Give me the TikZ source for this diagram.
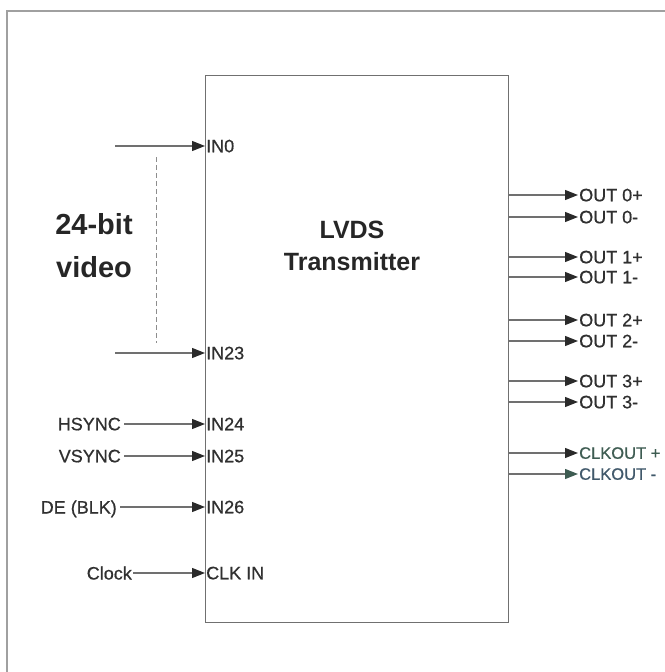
\documentclass[tikz,border=0pt]{standalone}
\usepackage{fontspec}
\setmainfont{Liberation Sans}
\newfontfamily\labelfont{Liberation Sans}[FakeBold=0.7]
\usetikzlibrary{arrows.meta}
\definecolor{wiregray}{HTML}{707070}
\definecolor{tipgray}{HTML}{2A2A2A}
\definecolor{framegray}{HTML}{A0A0A0}
\definecolor{textgray}{HTML}{303030}
\definecolor{clkgreen}{HTML}{3E5C52}
\definecolor{clkblue}{HTML}{40586A}
\begin{document}
\begin{tikzpicture}[x=1pt,y=-1pt,
  wire/.style={draw=wiregray,line width=1.3pt,-{Triangle[length=13pt,width=10pt,color=tipgray]}},
  pin/.style={font=\labelfont\fontsize{18}{20}\selectfont,text=textgray,inner sep=1pt,text depth=0pt,anchor=west},
  sig/.style={font=\labelfont\fontsize{18}{20}\selectfont,text=textgray,inner sep=3pt,text depth=0pt,anchor=east},
  title/.style={font=\bfseries\fontsize{25}{32}\selectfont,text=black!85,align=center},
]
\useasboundingbox (0,0) rectangle (664,672);
\draw[framegray,line width=1.2pt] (7,720) |- (720,11);
\node[draw=wiregray,line width=1.3pt,minimum width=303pt,minimum height=547pt,inner sep=0pt,anchor=north west] (tx) at (205,75) {};
\node[title] (txname) at (352,246) {LVDS\\Transmitter};
\node[title,font=\bfseries\fontsize{29}{43}\selectfont] (vidname) at (94,246) {24-bit\\video};
% input pins
\foreach \name/\yy/\txt in {in0/146/IN0,in23/353/IN23,in24/424/IN24,in25/456/IN25,in26/507/IN26,clkin/573/CLK IN}
  {\node[pin] (\name) at (205,\yy) {\txt};}
\coordinate (v0) at (115,146);
\coordinate (v23) at (115,353);
\coordinate (dtop) at (156,157);
\coordinate (dbot) at (156,343);
\draw[wire] (v0) -- (in0);
\draw[wire] (v23) -- (in23);
\draw[wiregray!80,line width=1pt,dash pattern=on 5pt off 3pt] (dtop) -- (dbot);
\node[sig] (hsync) at (124,424) {HSYNC};
\node[sig] (vsync) at (124,456) {VSYNC};
\node[sig] (de) at (120,507) {DE (BLK)};
\node[sig,inner sep=1pt] (clock) at (133,573) {Clock};
\draw[wire] (hsync) -- (in24);
\draw[wire] (vsync) -- (in25);
\draw[wire] (de) -- (in26);
\draw[wire] (clock) -- (clkin);
% output pins
\foreach \name/\yy/\txt in {o0p/195/OUT 0+,o0n/217/OUT 0-,o1p/257/OUT 1+,o1n/277/OUT 1-,o2p/320/OUT 2+,o2n/341/OUT 2-,o3p/381/OUT 3+,o3n/402/OUT 3-}
  {\node[pin] (\name) at (578,\yy) {\txt};
   \draw[wire] (tx.east |- \name.west) -- (\name.west);}
\node[pin,font=\labelfont\fontsize{16.5}{18}\selectfont,text=clkgreen] (clkp) at (578,453) {CLKOUT +};
\node[pin,font=\labelfont\fontsize{16.5}{18}\selectfont,text=clkblue] (clkn) at (578,474) {CLKOUT -};
\draw[wire] (tx.east |- clkp.west) -- (clkp.west);
\draw[wire,-{Triangle[length=13pt,width=10pt,color=clkgreen]}] (tx.east |- clkn.west) -- (clkn.west);
\end{tikzpicture}
\end{document}
